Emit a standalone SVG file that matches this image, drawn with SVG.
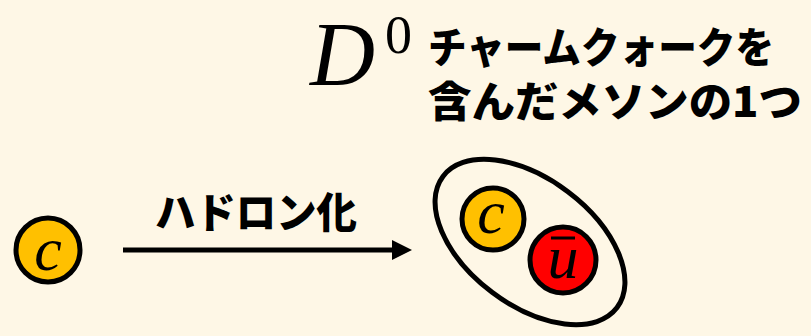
<svg xmlns="http://www.w3.org/2000/svg" width="811" height="336" viewBox="0 0 811 336">
<defs>
<style>
.q{stroke:#000;stroke-width:5}
.m{font-family:"Liberation Serif","DejaVu Serif",serif;font-style:italic;font-size:62px;fill:#000;text-anchor:middle}
.jp{font-family:"Noto Sans CJK JP",sans-serif;font-weight:900;font-size:42px;fill:#000}
</style>
<marker id="ah" markerWidth="4" markerHeight="4" refX="0" refY="2" orient="auto" markerUnits="strokeWidth"><path d="M0,0 L4,2 L0,4 Z" fill="#000"/></marker>
</defs>
<rect width="811" height="336" fill="#FEF7E6"/>
<g id="title">
<text x="310" y="85" font-family="Liberation Serif,serif" font-style="italic" font-size="90" fill="#000">D</text>
<text x="385" y="53" font-family="Liberation Serif,serif" font-size="54" fill="#000">0</text>
<text class="jp" x="428" y="63" textLength="346" lengthAdjust="spacingAndGlyphs">チャームクォークを</text>
<text class="jp" x="428" y="117" textLength="374" lengthAdjust="spacingAndGlyphs">含んだメソンの1つ</text>
</g>
<g id="c-quark">
<circle class="q" cx="48" cy="250" r="32" fill="#FFC000"/>
<text class="m" x="48" y="270">c</text>
</g>
<g id="connectors">
<line x1="123" y1="250" x2="392" y2="250" stroke="#000" stroke-width="5" marker-end="url(#ah)"/>
<text class="jp" x="155" y="228" textLength="202" lengthAdjust="spacingAndGlyphs">ハドロン化</text>
</g>
<g id="meson">
<ellipse cx="530" cy="242" rx="109" ry="63" transform="rotate(37 530 242)" fill="none" stroke="#000" stroke-width="5"/>
<circle class="q" cx="493" cy="219" r="31" fill="#FFC000"/>
<text class="m" x="491" y="233">c</text>
<circle class="q" cx="563" cy="260" r="33" fill="#FF0000"/>
<text class="m" x="563" y="278">u</text>
<line x1="551" y1="238" x2="575" y2="238" stroke="#000" stroke-width="3"/>
</g>
</svg>
